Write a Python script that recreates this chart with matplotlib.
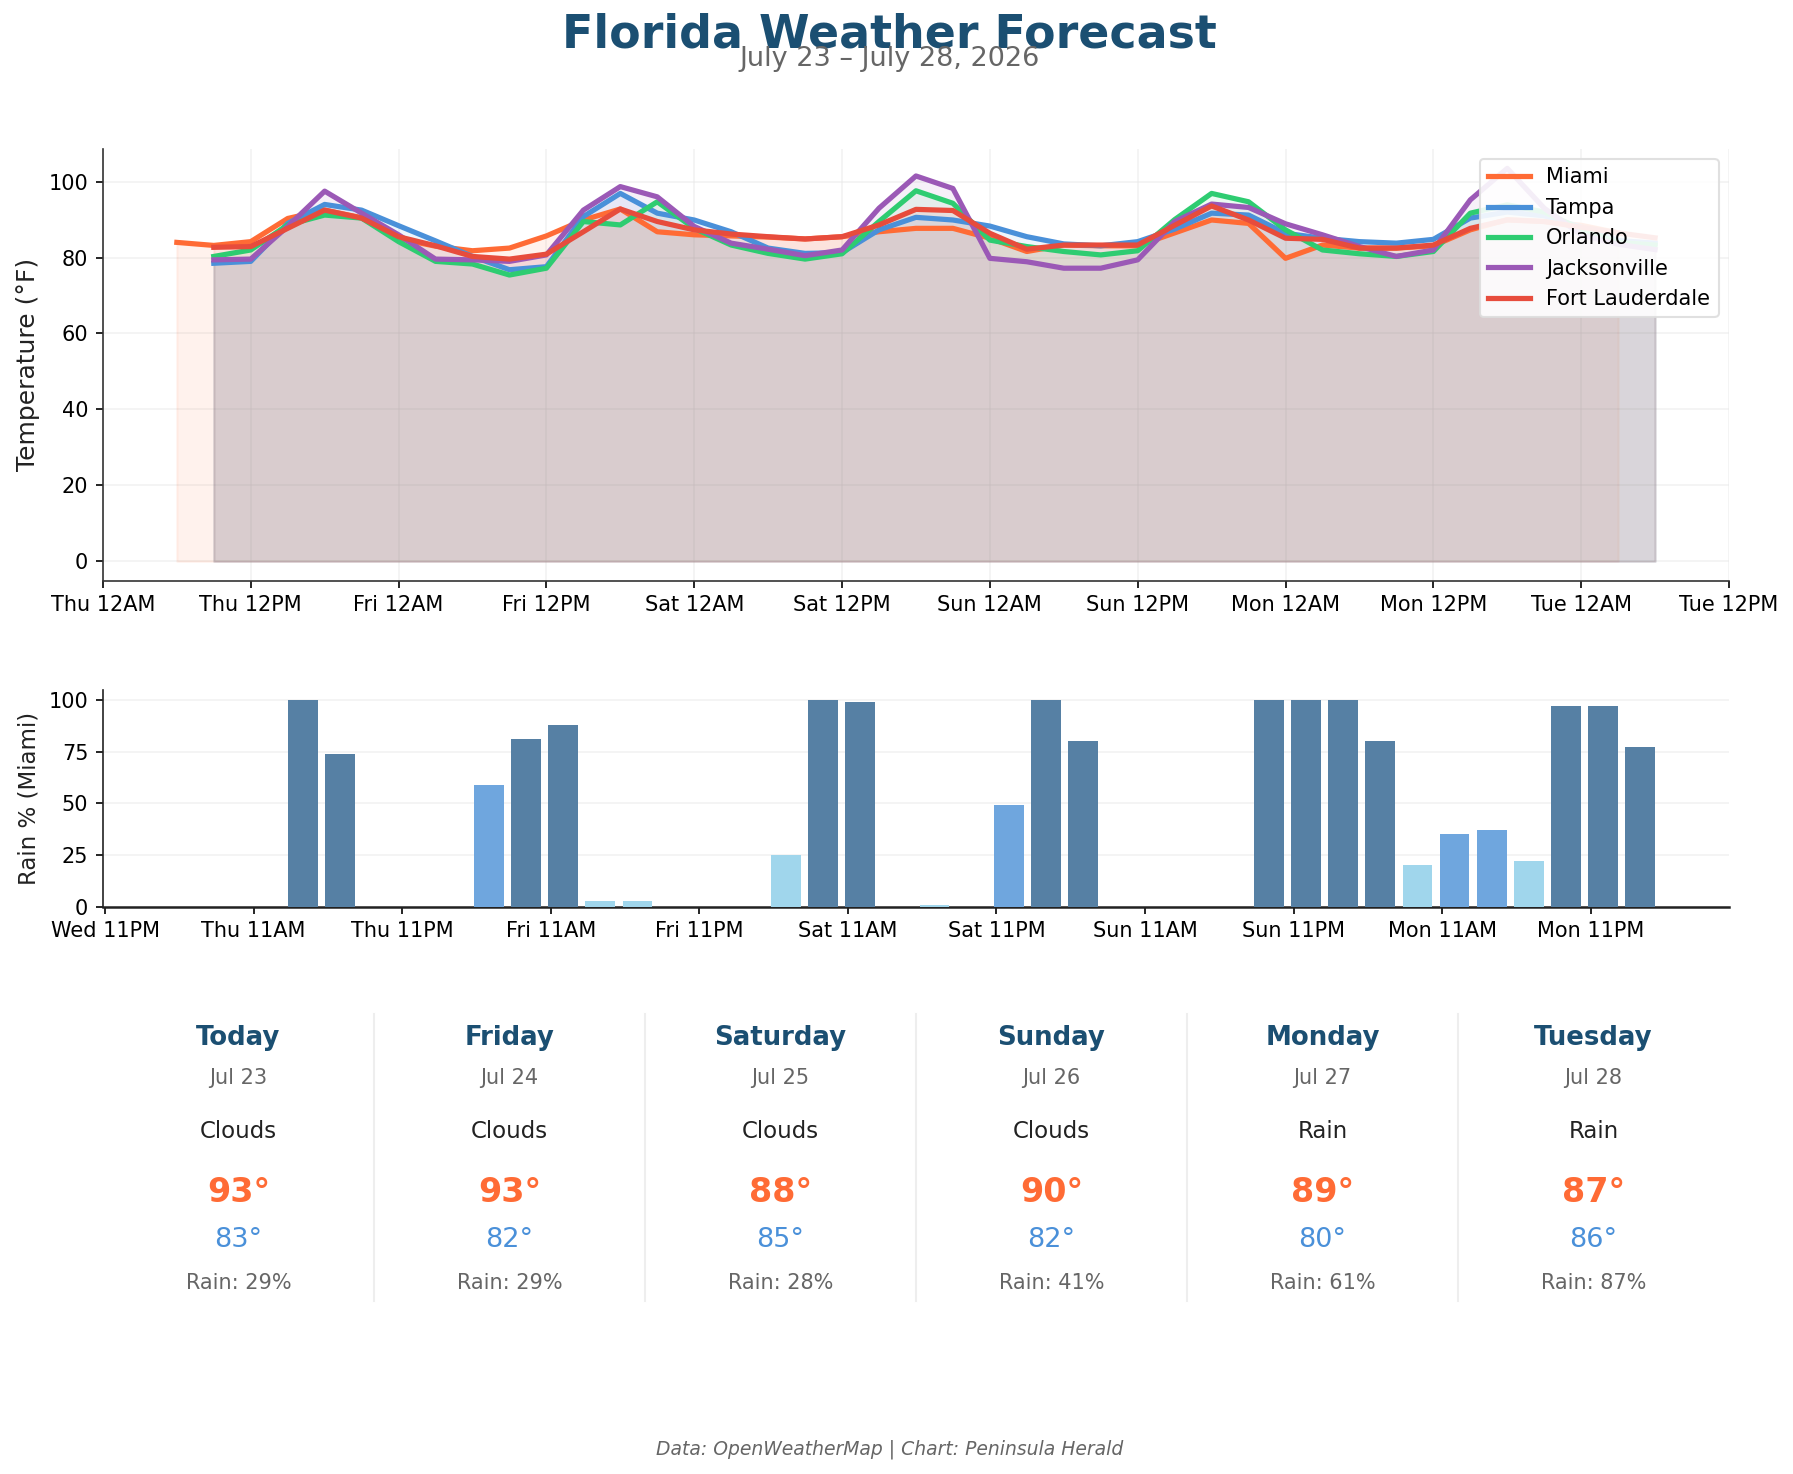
import matplotlib
matplotlib.use("Agg")
import matplotlib.pyplot as plt
import numpy as np

# ---------------- data ----------------
# hours measured from Thu Jul 23 12AM
miami_hours = list(range(6, 124, 3))      # Thu 6AM .. Tue 3AM
other_hours = list(range(9, 127, 3))      # Thu 9AM .. Tue 6AM

miami = [84.0, 83.2, 84.2, 90.3, 92.5, 90.5, 85.0, 83.0, 81.8, 82.5,
         85.7, 89.9, 92.8, 86.8, 86.0, 85.7, 85.4, 84.9, 85.5, 86.8,
         87.7, 87.7, 85.1, 81.6, 83.3, 83.1, 83.1, 86.5, 89.9, 89.0,
         79.8, 83.3, 82.5, 82.5, 83.1, 87.3, 90.0, 89.5, 88.5, 86.5]
tampa = [78.5, 79.0, 89.0, 94.0, 92.5, 88.4, 84.4, 80.3, 76.8, 77.6,
         90.8, 96.9, 91.7, 89.9, 86.8, 82.5, 81.1, 81.3, 87.3, 90.6,
         89.9, 88.3, 85.5, 83.6, 83.1, 84.2, 87.5, 91.7, 91.2, 86.4,
         85.1, 84.2, 83.8, 84.8, 90.4, 92.0, 91.0, 88.0, 84.5, 83.8]
orlando = [80.3, 82.0, 88.6, 91.2, 90.4, 84.2, 79.0, 78.3, 75.4, 77.2,
           89.5, 88.6, 94.7, 87.7, 83.3, 81.1, 79.6, 81.0, 89.5, 97.6,
           94.3, 84.6, 82.9, 81.6, 80.7, 81.8, 90.0, 96.9, 94.7, 87.3,
           82.0, 81.0, 80.3, 81.6, 91.7, 93.9, 92.0, 87.5, 84.0, 83.3]
jacksonville = [79.4, 79.6, 88.2, 97.5, 91.7, 86.0, 79.6, 79.4, 79.0, 80.7,
                92.5, 98.7, 96.0, 88.2, 83.8, 82.2, 80.5, 82.0, 93.0, 101.5,
                98.2, 79.8, 78.9, 77.2, 77.2, 79.4, 89.5, 94.1, 93.2, 88.9,
                86.0, 82.9, 80.3, 82.0, 95.2, 103.5, 93.0, 86.0, 83.5, 82.1]
fort_lauderdale = [82.7, 82.9, 87.7, 92.5, 90.4, 85.5, 83.1, 80.3, 79.6, 80.9,
                   86.8, 92.8, 89.5, 87.3, 86.2, 85.5, 84.9, 85.5, 88.6, 92.7,
                   92.4, 86.4, 82.2, 83.3, 83.3, 83.3, 88.5, 93.6, 89.9, 85.1,
                   84.8, 82.5, 82.5, 83.3, 87.7, 89.9, 89.5, 88.0, 86.5, 85.2]

city_names = ["Miami", "Tampa", "Orlando", "Jacksonville", "Fort Lauderdale"]
city_colors = ["#FF6B35", "#4A90D9", "#2ECC71", "#9B59B6", "#E74C3C"]

miami_rain = [0, 0, 0, 100, 74, 0, 0, 0, 59, 81,
              88, 3, 3, 0, 0, 0, 25, 100, 99, 0,
              1, 0, 49, 100, 80, 0, 0, 0, 0, 100,
              100, 100, 80, 20, 35, 37, 22, 97, 97, 77]

top_tick_hours = list(range(0, 133, 12))
top_tick_labels = ["Thu 12AM", "Thu 12PM", "Fri 12AM", "Fri 12PM", "Sat 12AM",
                   "Sat 12PM", "Sun 12AM", "Sun 12PM", "Mon 12AM", "Mon 12PM",
                   "Tue 12AM", "Tue 12PM"]
bot_tick_hours = list(range(-1, 120, 12))
bot_tick_labels = ["Wed 11PM", "Thu 11AM", "Thu 11PM", "Fri 11AM", "Fri 11PM",
                   "Sat 11AM", "Sat 11PM", "Sun 11AM", "Sun 11PM", "Mon 11AM",
                   "Mon 11PM"]

days = ["Today", "Friday", "Saturday", "Sunday", "Monday", "Tuesday"]
dates = ["Jul 23", "Jul 24", "Jul 25", "Jul 26", "Jul 27", "Jul 28"]
conditions = ["Clouds", "Clouds", "Clouds", "Clouds", "Rain", "Rain"]
highs = [93, 93, 88, 90, 89, 87]
lows = [83, 82, 85, 82, 80, 86]
rain_pct = [29, 29, 28, 41, 61, 87]

# ---------------- figure ----------------
TITLE_C = "#1B4F72"
fig = plt.figure(figsize=(1793 / 150, 1474 / 150), dpi=150)

fig.text(0.496, 0.976, "Florida Weather Forecast", ha="center", va="center",
         fontsize=22, fontweight="bold", color=TITLE_C)
fig.text(0.496, 0.9597, "July 23 \u2013 July 28, 2026", ha="center", va="center",
         fontsize=13, color="#666666")

# --- temperature axes ---
ax1 = fig.add_axes([0.0574, 0.6059, 0.9069, 0.2932])
series = [miami, tampa, orlando, jacksonville, fort_lauderdale]
for name, col, vals in zip(city_names, city_colors, series):
    hrs = miami_hours if name == "Miami" else other_hours
    ax1.plot(hrs, vals, color=col, lw=2.5, label=name, zorder=3)
    ax1.fill_between(hrs, vals, 0, color=col, alpha=0.085, zorder=2)
ax1.set_xticks(top_tick_hours)
ax1.set_xticklabels(top_tick_labels, fontsize=10)
ax1.set_yticks([0, 20, 40, 60, 80, 100])
ax1.tick_params(axis="y", labelsize=10)
ax1.set_ylabel("Temperature (\u00b0F)", fontsize=12, color="#222222")
ax1.grid(True, color="#e6e6e6", alpha=0.5, lw=0.8)
ax1.set_axisbelow(True)
for s in ["top", "right"]:
    ax1.spines[s].set_visible(False)
for s in ["left", "bottom"]:
    ax1.spines[s].set_color("#333333")
leg = ax1.legend(loc="upper right", fontsize=10, framealpha=0.9,
                 edgecolor="#dddddd", fancybox=True)

# --- rain axes ---
ax2 = fig.add_axes([0.0574, 0.3848, 0.9069, 0.1474])
bar_colors = []
for v in miami_rain:
    if v >= 70:
        bar_colors.append("#5680A4")
    elif v >= 30:
        bar_colors.append("#6FA6DE")
    else:
        bar_colors.append("#A0D6EC")
ax2.bar(miami_hours, miami_rain, width=2.4, color=bar_colors, zorder=3)
ax2.set_ylim(0, 105)
ax2.set_yticks([0, 25, 50, 75, 100])
ax2.set_xticks(bot_tick_hours)
ax2.set_xticklabels(bot_tick_labels, fontsize=10)
ax2.tick_params(axis="y", labelsize=10)
ax2.set_ylabel("Rain % (Miami)", fontsize=11, color="#222222")
ax2.grid(True, axis="y", color="#e6e6e6", alpha=0.5, lw=0.8)
ax2.set_axisbelow(True)
for s in ["top", "right"]:
    ax2.spines[s].set_visible(False)
for s in ["left", "bottom"]:
    ax2.spines[s].set_color("#222222")
ax2.spines["bottom"].set_linewidth(1.2)

# --- daily cards ---
left, right = 0.0574, 0.9643
colw = (right - left) / 6
for i in range(6):
    cx = left + colw * (i + 0.5)
    fig.text(cx, 0.2956, days[i], ha="center", va="center", fontsize=12.5,
             fontweight="bold", color=TITLE_C)
    fig.text(cx, 0.2684, dates[i], ha="center", va="center", fontsize=10,
             color="#666666")
    fig.text(cx, 0.2327, conditions[i], ha="center", va="center", fontsize=11,
             color="#222222")
    fig.text(cx, 0.1908, f"{highs[i]}\u00b0", ha="center", va="center",
             fontsize=16, fontweight="bold", color="#FF6B35")
    fig.text(cx, 0.1590, f"{lows[i]}\u00b0", ha="center", va="center",
             fontsize=13, color="#4A90D9")
    fig.text(cx, 0.1296, f"Rain: {rain_pct[i]}%", ha="center", va="center",
             fontsize=10, color="#666666")
    if i > 0:
        xs = left + colw * i
        fig.add_artist(plt.Line2D([xs, xs], [0.1172, 0.3119], color="#eeeeee",
                                  lw=1, transform=fig.transFigure))

fig.text(0.496, 0.0171, "Data: OpenWeatherMap | Chart: Peninsula Herald",
         ha="center", va="center", fontsize=9, style="italic", color="#666666")

fig.savefig("out.png", dpi=150, facecolor="white")
